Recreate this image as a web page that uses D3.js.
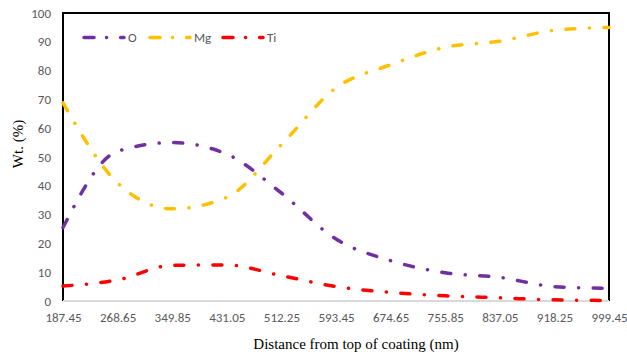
<!DOCTYPE html>
<html>
<head>
<meta charset="utf-8">
<script src="https://cdn.jsdelivr.net/npm/d3@7"></script>
<style>
  body { margin: 0; background: #fff; }
  #chart text { font-family: Carlito, "Liberation Sans", Arial, sans-serif; }
</style>
</head>
<body>
<div id="chart"></div>
<script>
// categories on the x axis (distance, nm)
const distances = ["187.45", "268.65", "349.85", "431.05", "512.25", "593.45",
                   "674.65", "755.85", "837.05", "918.25", "999.45"];

// series values, wt. %
const oValues  = [25.5, 52, 55, 51, 37.5, 21.5, 14, 9.8, 8.2, 5, 4.4];
const mgValues = [68.8, 41, 32, 36, 54.3, 74, 82, 88.1, 90.2, 94, 95];
const tiValues = [5.2, 7.3, 12.4, 12.5, 8.8, 5, 3, 1.8, 1.1, 0.4, 0.2];

const yTicks = [0, 10, 20, 30, 40, 50, 60, 70, 80, 90, 100];

const seriesNames  = ["O", "Mg", "Ti"];
const seriesColors = ["#7030A0", "#FFC000", "#FF0000"];

const width = 627;
const height = 355;
const plot = { left: 63, right: 609, top: 13, bottom: 301 };

const svg = d3.select("#chart")
    .append("svg")
    .attr("width", width)
    .attr("height", height);

const x = d3.scalePoint()
    .domain(distances)
    .range([plot.left, plot.right]);

const y = d3.scaleLinear()
    .domain([0, 100])
    .range([plot.bottom, plot.top]);

// y axis labels (no tick marks, no gridlines)
const yAxis = svg.append("g")
    .attr("transform", `translate(${plot.left},0)`)
    .call(d3.axisLeft(y).tickValues(yTicks).tickSize(0).tickPadding(12));
yAxis.select(".domain").remove();
yAxis.selectAll("text")
    .attr("fill", "#595959")
    .attr("font-size", "13px");

// x axis labels
const xAxis = svg.append("g")
    .attr("transform", `translate(0,${plot.bottom})`)
    .call(d3.axisBottom(x).tickSize(0).tickPadding(12));
xAxis.select(".domain").remove();
xAxis.selectAll("text")
    .attr("fill", "#595959")
    .attr("font-size", "13px");

// plot area border: black on left/top/right, light grey category axis at bottom
svg.append("path")
    .attr("d", `M${plot.left},${plot.bottom}V${plot.top}H${plot.right}V${plot.bottom}`)
    .attr("fill", "none")
    .attr("stroke", "#000")
    .attr("stroke-width", 2);

svg.append("line")
    .attr("x1", plot.left).attr("x2", plot.right)
    .attr("y1", plot.bottom).attr("y2", plot.bottom)
    .attr("stroke", "#D9D9D9")
    .attr("stroke-width", 2);

const dashPattern = "9,14.5,0.1,14.5";

const line = d3.line()
    .x((d, i) => x(distances[i]))
    .y(d => y(d))
    .curve(d3.curveMonotoneX);

[oValues, mgValues, tiValues].forEach((vals, i) => {
    svg.append("path")
        .datum(vals)
        .attr("d", line)
        .attr("fill", "none")
        .attr("stroke", seriesColors[i])
        .attr("stroke-width", 3.5)
        .attr("stroke-linecap", "round")
        .attr("stroke-dasharray", dashPattern);
});

// legend
const legendX = [84, 150, 223];
const legend = svg.append("g");
seriesNames.forEach((name, i) => {
    legend.append("line")
        .attr("x1", legendX[i]).attr("x2", legendX[i] + 40)
        .attr("y1", 37.5).attr("y2", 37.5)
        .attr("stroke", seriesColors[i])
        .attr("stroke-width", 3.5)
        .attr("stroke-linecap", "round")
        .attr("stroke-dasharray", "10,12.5,0.1,14");
    legend.append("text")
        .attr("x", legendX[i] + 44)
        .attr("y", 42)
        .attr("fill", "#595959")
        .attr("font-size", "13px")
        .text(name);
});

// axis titles
svg.append("text")
    .attr("x", 356)
    .attr("y", 349)
    .attr("text-anchor", "middle")
    .attr("font-size", "15px")
    .style("font-family", "'Liberation Serif', 'Times New Roman', serif")
    .text("Distance from top of coating (nm)");

svg.append("text")
    .attr("transform", "translate(23,144) rotate(-90)")
    .attr("text-anchor", "middle")
    .attr("font-size", "15px")
    .style("font-family", "'Liberation Serif', 'Times New Roman', serif")
    .text("Wt. (%)");
</script>
</body>
</html>
